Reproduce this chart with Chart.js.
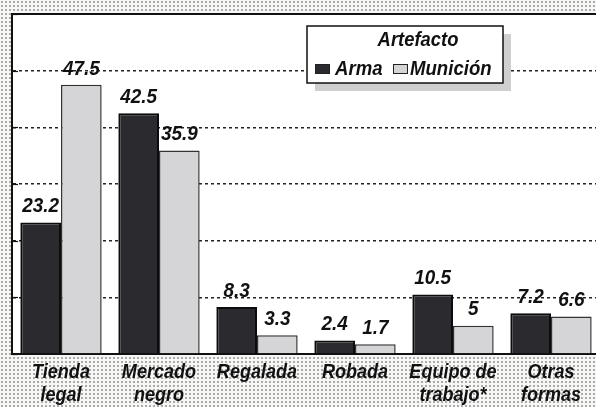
<!DOCTYPE html>
<html>
<head>
<meta charset="utf-8">
<script src="https://cdn.jsdelivr.net/npm/chart.js@4/dist/chart.umd.min.js"></script>
<style>
  html, body { margin: 0; padding: 0; overflow: hidden; }
  body {
    width: 596px; height: 407px;
    background-color: #f7f7f5;
    background-image: radial-gradient(circle, #a8a8a8 0.7px, transparent 1px);
    background-size: 4px 4px;
  }
  #wrap { position: absolute; left: 0; top: 0; width: 600px; height: 407px; }
</style>
</head>
<body>
<div id="wrap"><canvas id="c" width="600" height="407"></canvas></div>
<script>
const categories = [["Tienda", "legal"], ["Mercado", "negro"], ["Regalada"], ["Robada"], ["Equipo de", "trabajo*"], ["Otras", "formas"]];
const seriesNames = ["Arma", "Munición"];
const arma = [23.2, 42.5, 8.3, 2.4, 10.5, 7.2];
const municion = [47.5, 35.9, 3.3, 1.7, 5, 6.6];
const armaLabels = ["23.2", "42.5", "8.3", "2.4", "10.5", "7.2"];
const municionLabels = ["47.5", "35.9", "3.3", "1.7", "5", "6.6"];
const yTicks = [0, 10, 20, 30, 40, 50, 60];
const legendTitle = "Artefacto";

const FONT = '"Liberation Sans", Arial, sans-serif';

function condensedText(ctx, text, x, y, align, sq) {
  ctx.save();
  ctx.translate(x, y);
  ctx.scale(sq, 1);
  ctx.textAlign = align || 'center';
  ctx.fillText(text, 0, 0);
  ctx.restore();
}

const plotPlugin = {
  id: 'plotDecor',
  beforeDraw(chart) {
    const { ctx, chartArea: a } = chart;
    ctx.save();
    ctx.fillStyle = '#ffffff';
    ctx.fillRect(a.left, a.top, a.right - a.left, a.bottom - a.top);
    ctx.restore();
  },
  afterDatasetsDraw(chart) {
    const { ctx, chartArea: a, scales } = chart;
    ctx.save();
    ctx.strokeStyle = '#111';
    ctx.lineWidth = 2;
    ctx.beginPath();
    ctx.moveTo(a.left, a.top);
    ctx.lineTo(a.right, a.top);
    ctx.stroke();
    ctx.lineWidth = 1.2;
    yTicks.forEach(v => {
      const y = Math.round(scales.y.getPixelForValue(v)) + 0.5;
      ctx.beginPath();
      ctx.moveTo(a.left, y);
      ctx.lineTo(a.left + 6, y);
      ctx.stroke();
    });
    ctx.fillStyle = '#111';
    ctx.font = 'italic bold 21px ' + FONT;
    ctx.textBaseline = 'middle';
    const labs = [armaLabels, municionLabels];
    chart.data.datasets.forEach((ds, di) => {
      const meta = chart.getDatasetMeta(di);
      meta.data.forEach((bar, i) => {
        condensedText(ctx, labs[di][i], bar.x, bar.y - 16, 'center', 0.9);
      });
    });
    ctx.font = 'italic bold 21px ' + FONT;
    chart.data.labels.forEach((lab, i) => {
      const x = scales.x.getPixelForValue(i);
      lab.forEach((line, li) => {
        condensedText(ctx, line, x, a.bottom + 18 + li * 23, 'center', 0.86);
      });
    });
    ctx.restore();
  },
  afterDraw(chart) {
    const { ctx } = chart;
    const bx = 307, by = 26, bw = 196, bh = 57;
    ctx.save();
    ctx.fillStyle = '#cfcfcf';
    ctx.fillRect(bx + 8, by + 8, bw, bh);
    ctx.fillStyle = '#ffffff';
    ctx.fillRect(bx, by, bw, bh);
    ctx.strokeStyle = '#111';
    ctx.lineWidth = 1.5;
    ctx.strokeRect(bx, by, bw, bh);
    ctx.fillStyle = '#111';
    ctx.font = 'italic bold 20px ' + FONT;
    ctx.textBaseline = 'middle';
    condensedText(ctx, legendTitle, 418, 40, 'center', 0.92);
    const ds = chart.data.datasets;
    const items = [{ x: 315, tx: 335 }, { x: 393, tx: 410 }];
    items.forEach((it, i) => {
      ctx.fillStyle = ds[i].backgroundColor;
      ctx.fillRect(it.x, 64, 15, 10);
      ctx.strokeStyle = '#222';
      ctx.lineWidth = 1;
      ctx.strokeRect(it.x + 0.5, 64.5, 14, 9);
      ctx.fillStyle = '#111';
      condensedText(ctx, ds[i].label, it.tx, 69, 'left', 0.93);
    });
    ctx.restore();
  }
};

new Chart(document.getElementById('c'), {
  type: 'bar',
  data: {
    labels: categories,
    datasets: [
      { label: seriesNames[0], data: arma, backgroundColor: '#2a2a2f', borderColor: '#0c0c0c', borderWidth: 2 },
      { label: seriesNames[1], data: municion, backgroundColor: '#d5d5d8', borderColor: '#333', borderWidth: 1.5 }
    ]
  },
  options: {
    responsive: false,
    animation: false,
    devicePixelRatio: 1,
    layout: { padding: { left: 12, top: 14, right: 0, bottom: 0 } },
    datasets: { bar: { barPercentage: 1, categoryPercentage: 0.83 } },
    plugins: { legend: { display: false }, tooltip: { enabled: false }, title: { display: false } },
    scales: {
      x: {
        grid: { display: false },
        border: { display: true, color: '#111', width: 2 },
        ticks: { display: false },
        afterFit(scale) { scale.height = 53; }
      },
      y: {
        min: 0, max: 60,
        afterBuildTicks(scale) { scale.ticks = yTicks.map(v => ({ value: v })); },
        ticks: { display: false },
        grid: {
          drawTicks: false,
          color: (c) => (c.tick && (c.tick.value === 0 || c.tick.value === 60)) ? 'rgba(0,0,0,0)' : '#222',
          lineWidth: 1.5
        },
        border: { display: true, color: '#111', width: 2, dash: [3, 3] },
        afterFit(scale) { scale.width = 0; }
      }
    }
  },
  plugins: [plotPlugin]
});
</script>
</body>
</html>
